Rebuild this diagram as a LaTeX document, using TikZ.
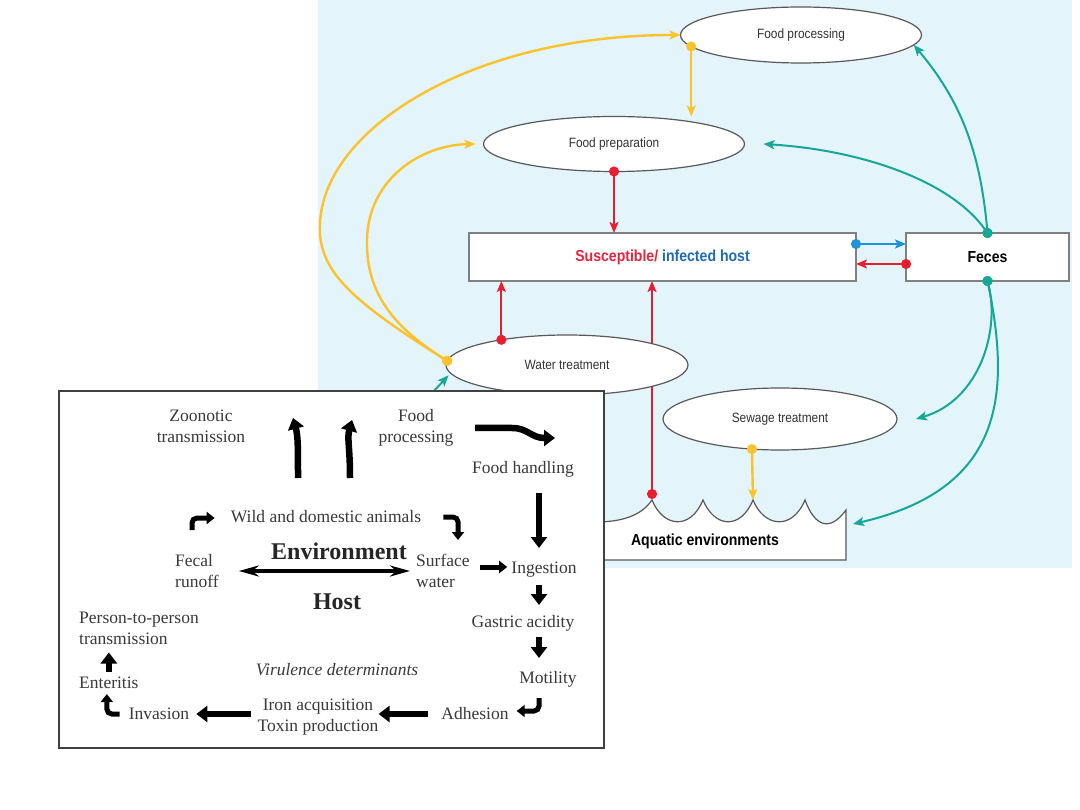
\documentclass[tikz,border=0pt]{standalone}
\usepackage{fontspec}
\setmainfont{Liberation Serif}
\newfontfamily\condfont[FakeStretch=0.88]{Liberation Sans}
\usepackage{xcolor}
\usepackage{tikz}
\usetikzlibrary{shapes.geometric, arrows.meta, positioning, backgrounds, calc}

\definecolor{skyback}{RGB}{228,244,251}
\definecolor{pathyellow}{RGB}{250,194,44}
\definecolor{pathred}{RGB}{232,30,48}
\definecolor{pathblue}{RGB}{32,146,214}
\definecolor{pathteal}{RGB}{22,168,150}
\definecolor{hostred}{RGB}{232,36,62}
\definecolor{hostblue}{RGB}{30,108,178}
\definecolor{inktext}{RGB}{58,58,58}

\begin{document}
\begin{tikzpicture}[x=1pt, y=-1pt,
    oval/.style={ellipse, draw=black!65, line width=1.2pt, fill=white, inner sep=0pt, outer sep=0pt,
                 font=\condfont\fontsize{13.5}{15}\selectfont, text=black!80},
    box/.style={draw=black!50, line width=1.5pt, fill=white, inner sep=0pt, outer sep=0pt,
                minimum height=48pt, font=\condfont\bfseries\fontsize{16}{18}\selectfont},
    link/.style={line width=2pt, {Circle[length=10pt]}-{Stealth[length=11pt,width=9pt,inset=2.5pt]},
                 shorten <=-5pt},
    lbl/.style={inner sep=0pt, align=center, text=inktext, font=\fontsize{17.5}{21}\selectfont},
    bigword/.style={inner sep=0pt, text=black!85, font=\bfseries\fontsize{24}{28}\selectfont},
    fat/.style={line width=6.5pt, -{Triangle[length=11pt,width=16pt]}},
    fatsmall/.style={line width=5pt, -{Triangle[length=8pt,width=12pt]}},
    twohead/.style={line width=3.5pt, {Stealth[length=20pt,width=11pt]}-{Stealth[length=20pt,width=11pt]}}
]
\useasboundingbox (0,0) rectangle (1080,810);

% transmission routes
\node[oval, minimum width=241pt, minimum height=56pt] (fproc) at (801,35) {Food processing};
\node[oval, minimum width=261pt, minimum height=55pt] (fprep) at (614,144) {Food preparation};
\node[box, minimum width=387pt] (host) at (662.5,257)
    {\textcolor{hostred}{Susceptible/} \textcolor{hostblue}{infected host}};
\node[box, minimum width=163pt, right=50pt of host] (feces) {Feces};
\node[oval, minimum width=242pt, minimum height=60pt] (water) at (567,365) {Water treatment};
\node[oval, minimum width=234pt, minimum height=62pt] (sewage) at (780,419) {Sewage treatment};

\draw[draw=black!65, line width=1.2pt, fill=white]
  (596,522) .. controls (628,522) and (644,512) .. (652,500) coordinate (peak1)
  .. controls (663,527) and (690,531) .. (703,500)
  .. controls (714,527) and (740,531) .. (753,500) coordinate (peak3)
  .. controls (764,527) and (792,531) .. (805,500)
  .. controls (815,527) and (830,532) .. (846,510)
  -- (846,560) -- (596,560) -- cycle;
\node[font=\condfont\bfseries\fontsize{16}{18}\selectfont] (aquatic) at (705,541) {Aquatic environments};
\coordinate (aqright) at (853,524);
\coordinate (wsrc) at (420,406);

\begin{pgfonlayer}{background}
  \fill[skyback] (318,0) rectangle (1072,568);
  \draw[link, pathred] ($(peak1)+(0,-6)$) -- (peak1 |- host.south);
\end{pgfonlayer}

\draw[link, pathyellow, line width=2.4pt] (water.178) .. controls (350,300) and (318,270) .. (320,225)
    .. controls (322,130) and (470,35) .. (fproc.west);
\draw[link, pathyellow, line width=2.4pt] (water.178) .. controls (390,325) and (366,290) .. (367,240)
    .. controls (368,180) and (420,145) .. ([xshift=-8pt]fprep.west);
\draw[link, pathyellow, line width=2.4pt] (fproc.186) -- (fproc.186 |- fprep.north);
\draw[link, pathyellow, line width=2.4pt] (sewage.-133) -- (peak3);
\draw[link, pathred] (fprep.south) -- (fprep.south |- host.north);
\draw[link, pathred] (water.159) -- (water.159 |- host.south);
\draw[link, pathblue] ($(host.east)+(0,-13)$) -- ($(feces.west)+(0,-13)$);
\draw[link, pathred] ($(feces.west)+(0,7)$) -- ($(host.east)+(0,7)$);
\draw[link, pathteal] (feces.north) .. controls (980,150) and (960,100) .. (fproc.-5);
\draw[link, pathteal] (feces.north) .. controls (950,180) and (860,150) .. ([xshift=19pt]fprep.east);
\draw[link, pathteal] (feces.south) .. controls (1000,330) and (980,400) .. ([xshift=19pt]sewage.east);
\draw[link, pathteal] (feces.south) .. controls (1012,400) and (1000,490) .. (aqright);
\draw[pathteal, line width=2pt, -{Stealth[length=11pt,width=9pt,inset=2.5pt]}, shorten >=3pt]
    (wsrc) -- (water.184);

% inset: environment / host cycle
\node[draw=black!75, line width=1.5pt, fill=white, minimum width=545pt, minimum height=357pt,
      inner sep=0pt] (inset) at (331.5,569.5) {};
\node[lbl] (zoo) at (201,426) {Zoonotic\\transmission};
\node[lbl] (fpr2) at (416,428) {Food\\processing};
\node[lbl] (handling) at (523,469) {Food handling};
\node[lbl] (wild) at (326,517) {Wild and domestic animals};
\node[bigword] (envt) at (339,551) {Environment};
\node[lbl, align=left, anchor=west] (fecal) at (175,571) {Fecal\\runoff};
\node[lbl, align=left, anchor=west] (surface) at (416,571) {Surface\\water};
\node[lbl] (ingest) at (544,570) {Ingestion};
\node[bigword] (hostword) at (337,602) {Host};
\node[lbl] (gastric) at (523,623) {Gastric acidity};
\node[lbl, align=left, anchor=west] (p2p) at (79,628) {Person-to-person\\transmission};
\node[lbl, font=\itshape\fontsize{17.5}{21}\selectfont] (virulence) at (337,670) {Virulence determinants};
\node[lbl] (motility) at (548,679) {Motility};
\node[lbl, anchor=west] (enteritis) at (79,683) {Enteritis};
\node[lbl] (adhesion) at (475,714) {Adhesion};
\node[lbl] (iron) at (318,717) {Iron acquisition\\Toxin production};
\node[lbl] (invasion) at (159,714) {Invasion};

\draw[fat] ($(wild.center)+(-28,-39)$) .. controls ($(wild.center)+(-28,-70)$) and ($(zoo.center)+(97,10)$)
    .. ($(zoo.center)+(92,-8)$);
\draw[fat] ($(wild.center)+(24,-39)$) .. controls ($(wild.center)+(24,-70)$) and ($(fpr2.center)+(-69,10)$)
    .. ($(fpr2.center)+(-64,-8)$);
\draw[fat] ($(fpr2.center)+(59,0)$) -- ($(fpr2.center)+(96,0)$) .. controls ($(fpr2.center)+(112,0)$)
    and ($(handling.center)+(8,-31)$) .. ($(handling.center)+(32,-31)$);
\draw[fat] ($(handling.center)+(16,24)$) -- ($(ingest.center)+(-5,-22)$);
\draw[fatsmall, rounded corners=5pt] ($(fecal.west)+(17,-41)$) |- ($(wild.west)+(-16,1)$);
\draw[fatsmall, rounded corners=5pt] ($(wild.east)+(22,0)$) -| ($(surface.west)+(42,-31)$);
\draw[twohead] ($(fecal.east)+(20,0)$) -- ($(surface.west)+(-6,0)$);
\draw[fatsmall] ($(surface.east)+(10,-4)$) -- ($(ingest.west)+(-4,-3)$);
\draw[fat] ($(ingest.center)+(-5,15)$) -- ($(gastric.center)+(16,-18)$);
\draw[fat] ($(gastric.center)+(16,14)$) -- ($(motility.center)+(-9,-21)$);
\draw[fatsmall, rounded corners=5pt] ($(motility.center)+(-9,19)$) |- ($(adhesion.east)+(8,-3)$);
\draw[fat, shorten <=13pt] (adhesion.west) -- (iron.east |- adhesion.west);
\draw[fat, shorten <=6pt, shorten >=7pt] (iron.west |- invasion.east) -- (invasion.east);
\draw[fatsmall, rounded corners=5pt, shorten <=9pt] (invasion.west) -| ($(enteritis.south)+(-2,5)$);
\draw[fat, shorten <=5pt, shorten >=8pt] (enteritis.north) -- (enteritis.north |- p2p.south);
\end{tikzpicture}
\end{document}
